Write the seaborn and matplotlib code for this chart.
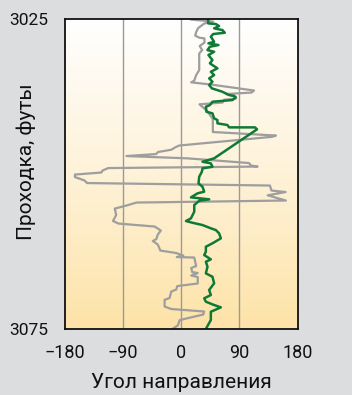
import numpy as np
import pandas as pd
import matplotlib
matplotlib.use("Agg")
import matplotlib.pyplot as plt
from matplotlib.colors import LinearSegmentedColormap
import seaborn as sns

# ---- data (angle in degrees, depth in feet) ----
green_angle = [41.7, 41.7, 53.5, 58.6, 50.9, 63.7, 67.4, 49.4, 45.8, 50.9, 42.1, 57.6, 44.3, 40.6,
               50.9, 42.1, 48.3, 44.3, 56.0, 45.8, 50.9, 43.2, 48.3, 43.2, 47.4, 63.7, 74.1, 81.8,
               84.4, 79.2, 66.4, 48.3, 44.3, 38.1, 39.0, 48.3, 50.9, 56.0, 56.0, 71.5, 74.1, 114.2,
               117.3, 50.9, 32.9, 45.8, 48.3, 32.9, 31.9, 27.8, 26.7, 32.9, 35.5, 25.2, 15.0, 43.2,
               27.8, 20.1, 20.1, 15.0, 7.3, 17.4, 32.9, 45.8, 53.5, 58.6, 61.3, 48.3, 38.1, 38.1,
               35.5, 45.8, 38.1, 40.6, 38.1, 48.3, 50.9, 43.2, 45.8, 35.5, 38.1, 50.9, 61.3, 45.8,
               45.8, 38.0]
green_depth = [3025.0, 3025.65, 3025.76, 3026.08, 3026.45, 3026.73, 3027.16, 3027.37, 3027.81,
               3028.62, 3028.87, 3029.15, 3029.42, 3029.96, 3030.23, 3030.76, 3031.57, 3032.10,
               3032.91, 3033.46, 3033.99, 3034.53, 3035.07, 3035.61, 3036.14, 3036.69, 3037.22,
               3037.38, 3037.59, 3038.03, 3038.14, 3038.30, 3038.84, 3039.11, 3039.92, 3040.18,
               3040.98, 3041.26, 3041.79, 3042.06, 3042.44, 3042.44, 3042.76, 3047.44, 3047.99,
               3048.25, 3048.80, 3049.06, 3049.60, 3050.41, 3051.48, 3052.03, 3052.83, 3053.09,
               3053.74, 3054.06, 3054.29, 3054.98, 3056.06, 3057.13, 3057.56, 3057.84, 3058.21,
               3058.74, 3059.02, 3059.55, 3060.36, 3061.16, 3061.71, 3062.52, 3063.05, 3063.75,
               3064.13, 3064.94, 3066.01, 3066.56, 3067.62, 3068.70, 3069.51, 3070.04, 3070.59,
               3071.12, 3071.50, 3072.21, 3073.55, 3075.0]

gray_angle = [14.7, 49.4, 35.5, 26.2, 23.1, 21.6, 28.2, 35.9, 35.9, 28.5, 32.4, 27.8, 27.8, 23.1,
              20.1, 15.4, 46.3, 112.7, 108.8, 69.4, 82.6, 84.6, 66.4, 64.0, 28.2, 40.1, 48.9, 48.9,
              146.6, 140.4, -3.1, -8.5, -15.4, -36.0, -39.0, -84.9, 9.3, 104.9, 108.0, 118.1, -113.1,
              -121.9, -123.9, -164.7, -164.7, -149.7, -145.8, 137.3, 139.7, 161.6, 133.8, 162.0,
              -69.4, -84.9, -102.9, -100.8, -105.7, -97.2, -41.2, -31.6, -36.3, -38.6, -44.0, -36.3,
              -32.4, -7.7, 3.1, -6.9, 20.1, 23.1, 15.4, 16.9, 25.5, 15.4, 25.5, 25.5, -6.2, -7.7,
              -15.4, -18.1, -25.8, -25.8, -15.4, 35.5, 34.0, 20.8, -2.3, -5.4, -13.9]
gray_depth = [3025.03, 3025.36, 3025.68, 3026.40, 3027.05, 3027.62, 3027.97, 3028.07, 3028.75,
              3029.31, 3029.96, 3030.52, 3033.19, 3034.00, 3034.88, 3035.17, 3035.53, 3036.49,
              3036.82, 3037.06, 3037.38, 3037.79, 3037.98, 3038.43, 3038.72, 3039.80, 3041.10,
              3043.19, 3043.76, 3043.97, 3045.37, 3045.62, 3046.05, 3046.42, 3046.75, 3047.07,
              3047.44, 3048.20, 3048.60, 3048.77, 3049.01, 3049.41, 3049.73, 3050.06, 3050.46,
              3051.02, 3051.43, 3051.83, 3052.64, 3052.88, 3053.41, 3054.25, 3054.58, 3055.06,
              3055.55, 3056.60, 3057.56, 3057.97, 3058.45, 3059.10, 3059.74, 3060.47, 3060.79,
              3061.36, 3062.33, 3062.73, 3063.13, 3063.38, 3063.46, 3064.83, 3065.15, 3065.80,
              3065.96, 3066.36, 3066.60, 3067.65, 3068.06, 3068.62, 3068.94, 3069.99, 3070.28,
              3071.37, 3071.77, 3072.17, 3072.66, 3072.98, 3073.55, 3074.43, 3075.0]

x_ticks = [-180, -90, 0, 90, 180]
x_tick_labels = ["\u2212180", "\u221290", "0", "90", "180"]
y_ticks = [3025, 3075]
x_label = "Угол направления"
y_label = "Проходка, футы"

# ---- style ----
sns.set_style("white")
plt.rcParams["font.family"] = ["Roboto", "DejaVu Sans"]

fig = plt.figure(figsize=(3.52, 3.95), dpi=100, facecolor="#dcdddf")
ax = fig.add_axes([0.1847, 0.167, 0.6605, 0.784])

# gradient background
cmap = LinearSegmentedColormap.from_list("bg", ["#ffffff", "#fef2d8", "#fde3a8"])
grad = np.linspace(1, 0, 256).reshape(-1, 1)
ax.imshow(grad, cmap=cmap, extent=[0, 1, 0, 1], transform=ax.transAxes,
          origin="lower", aspect="auto", zorder=0)

for gx in [-90, 0, 90]:
    ax.axvline(gx, color="#9a9a9a", lw=1.0, zorder=1)

gray_df = pd.DataFrame({"angle": gray_angle, "depth": gray_depth})
green_df = pd.DataFrame({"angle": green_angle, "depth": green_depth})
sns.lineplot(data=gray_df, x="angle", y="depth", sort=False, estimator=None,
             color="#9e9e9e", lw=1.6, ax=ax, zorder=2)
sns.lineplot(data=green_df, x="angle", y="depth", sort=False, estimator=None,
             color="#0f7a35", lw=1.8, ax=ax, zorder=3)

ax.set_xlim(-180, 180)
ax.set_ylim(3075, 3025)
ax.set_xticks(x_ticks)
ax.set_xticklabels(x_tick_labels)
ax.set_yticks(y_ticks)
ax.tick_params(axis="both", length=0, labelsize=13, colors="#111111")
ax.tick_params(axis="x", pad=11)
ax.tick_params(axis="y", pad=12, labelsize=12.5)
ax.set_xlabel(x_label, fontsize=15, color="#111111", labelpad=8)
ax.set_ylabel(y_label, fontsize=15, color="#111111")
ax.yaxis.set_label_coords(-0.125, 0.54)
for s in ax.spines.values():
    s.set_color("#111111")
    s.set_linewidth(1.3)
    s.set_zorder(5)
ax.grid(False)

fig.savefig("out.png", dpi=100, facecolor=fig.get_facecolor())
